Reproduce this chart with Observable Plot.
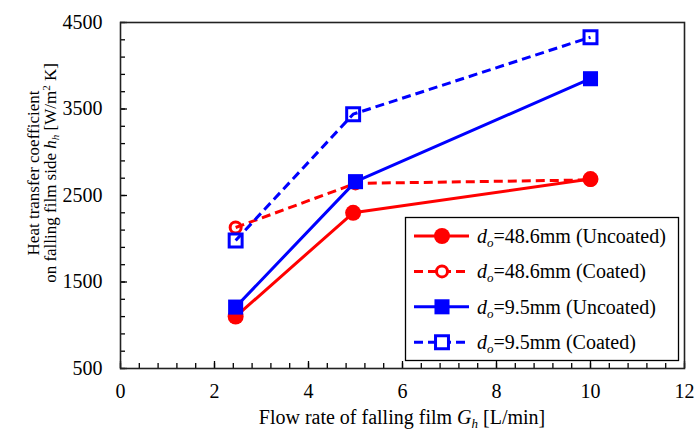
<!DOCTYPE html>
<html>
<head>
<meta charset="utf-8">
<script src="https://cdn.jsdelivr.net/npm/d3@7"></script>
<script src="https://cdn.jsdelivr.net/npm/@observablehq/plot@0.6"></script>
<style>
  html, body { margin: 0; padding: 0; background: #fff; }
  #wrap { position: relative; width: 695px; height: 432px; font-family: 'Liberation Serif', 'Times New Roman', serif; }
  #wrap svg { position: absolute; left: 0; top: 0; }
  #wrap svg text { font-family: 'Liberation Serif', 'Times New Roman', serif !important; }
</style>
</head>
<body>
<div id="wrap"></div>
<script>
// ---- data ----
const flow48Uncoated = [2.45, 4.95, 10];
const htc48Uncoated  = [1100, 2300, 2690];
const flow48Coated   = [2.45, 5, 10];
const htc48Coated    = [2130, 2640, 2680];
const flow95Uncoated = [2.45, 5, 10];
const htc95Uncoated  = [1210, 2660, 3850];
const flow95Coated   = [2.45, 4.95, 10];
const htc95Coated    = [1980, 3440, 4330];

const seriesNames = [
  "=48.6mm (Uncoated)",
  "=48.6mm (Coated)",
  "=9.5mm (Uncoated)",
  "=9.5mm (Coated)"
];

const xTickLabels = [0, 2, 4, 6, 8, 10, 12];
const yTickLabels = [500, 1500, 2500, 3500, 4500];
const xMinorTicks = d3.range(0, 12.001, 0.4);
const yMinorTicks = d3.range(500, 4500.1, 200);

const FONT = "'Liberation Serif', 'Times New Roman', serif";
const W = 695, H = 432, ML = 120, MR = 11, MT = 22, MB = 64;
const PW = W - ML - MR, PH = H - MT - MB;

const toRows = (xs, ys) => xs.map((x, i) => ({x, y: ys[i]}));
const series = [
  {rows: toRows(flow48Uncoated, htc48Uncoated), color: "#ff0000", dash: null, symbol: "circle", open: false},
  {rows: toRows(flow48Coated, htc48Coated),     color: "#ff0000", dash: "9,5", symbol: "circle", open: true},
  {rows: toRows(flow95Uncoated, htc95Uncoated), color: "#0000ff", dash: null, symbol: "square", open: false},
  {rows: toRows(flow95Coated, htc95Coated),     color: "#0000ff", dash: "9,5", symbol: "square", open: true}
];

function dotOpts(s) {
  const r = s.symbol === "circle" ? (s.open ? 5.5 : 8) : (s.open ? 7.3 : 8.5);
  return s.open
    ? {x: "x", y: "y", symbol: s.symbol, r, fill: "none", stroke: s.color, strokeWidth: 3}
    : {x: "x", y: "y", symbol: s.symbol, r, fill: s.color, stroke: "none"};
}

const marks = [];
for (const s of series) {
  marks.push(Plot.line(s.rows, {x: "x", y: "y", stroke: s.color, strokeWidth: 3,
    strokeDasharray: s.dash || undefined, strokeLinecap: s.dash ? "butt" : "round"}));
  marks.push(Plot.dot(s.rows, dotOpts(s)));
}

const chart = Plot.plot({
  width: W,
  height: H,
  marginLeft: ML,
  marginRight: MR,
  marginTop: MT,
  marginBottom: MB,
  style: {fontFamily: FONT, fontSize: "20px", color: "#000", background: "transparent"},
  x: {domain: [0, 12]},
  y: {domain: [500, 4500]},
  marks: [
    // inward tick marks (minor and major)
    Plot.ruleX(xMinorTicks, {x: d => d, insetTop: PH - 5, stroke: "#000", strokeWidth: 1.3}),
    Plot.ruleX(xTickLabels, {x: d => d, insetTop: PH - 7, stroke: "#000", strokeWidth: 1.3}),
    Plot.ruleY(yMinorTicks, {y: d => d, insetRight: PW - 5, stroke: "#000", strokeWidth: 1.3}),
    Plot.ruleY(yTickLabels, {y: d => d, insetRight: PW - 7, stroke: "#000", strokeWidth: 1.3}),
    Plot.axisX(xTickLabels, {tickSize: 0, tickPadding: 15, fontSize: 20, label: null, tickFormat: d => String(d)}),
    Plot.axisY(yTickLabels, {tickSize: 0, tickPadding: 18, fontSize: 20, label: null, tickFormat: d => String(d)}),
    ...marks,
    Plot.frame({stroke: "#222", strokeWidth: 1.6})
  ]
});
document.getElementById("wrap").appendChild(chart);

// ---- overlay: axis titles and legend ----
const ov = d3.select("#wrap").append("svg")
  .attr("width", W).attr("height", H)
  .attr("font-family", FONT)
  .style("overflow", "visible");

// x title
const xt = ov.append("text").attr("x", 402).attr("y", 424).attr("text-anchor", "middle")
  .attr("font-size", 20).attr("fill", "#000");
xt.append("tspan").text("Flow rate of falling film ");
xt.append("tspan").attr("font-style", "italic").text("G");
xt.append("tspan").attr("font-style", "italic").attr("font-size", 13).attr("dy", 4).text("h");
xt.append("tspan").attr("dy", -4).text(" [L/min]");

// y title (two lines)
const yg = ov.append("g").attr("transform", "translate(0,173) rotate(-90)");
yg.append("text").attr("x", 0).attr("y", 39).attr("text-anchor", "middle")
  .attr("font-size", 17).attr("fill", "#000").text("Heat transfer coefficient");
const y2 = yg.append("text").attr("x", 0).attr("y", 56).attr("text-anchor", "middle")
  .attr("font-size", 17).attr("fill", "#000");
y2.append("tspan").text("on falling film side ");
y2.append("tspan").attr("font-style", "italic").text("h");
y2.append("tspan").attr("font-style", "italic").attr("font-size", 11).attr("dy", 3).text("h");
y2.append("tspan").attr("dy", -3).text(" [W/m");
y2.append("tspan").attr("font-size", 11).attr("dy", -6).text("2");
y2.append("tspan").attr("dy", 6).text(" K]");

// legend
const lg = ov.append("g");
lg.append("rect").attr("x", 405.5).attr("y", 217.5).attr("width", 273).attr("height", 143)
  .attr("fill", "#fff").attr("stroke", "#000").attr("stroke-width", 1.3);
series.forEach((s, i) => {
  const cy = 236 + i * 35.4;
  lg.append("line").attr("x1", 414).attr("x2", 469).attr("y1", cy).attr("y2", cy)
    .attr("stroke", s.color).attr("stroke-width", 3)
    .attr("stroke-dasharray", s.dash || null);
  const o = dotOpts(s);
  const sym = s.symbol === "circle" ? d3.symbolCircle : d3.symbolSquare;
  lg.append("path").attr("transform", `translate(442,${cy})`)
    .attr("d", d3.symbol(sym, o.r * o.r * Math.PI)())
    .attr("fill", s.open ? "#fff" : s.color)
    .attr("stroke", s.open ? s.color : "none")
    .attr("stroke-width", s.open ? 3 : 0);
  const t = lg.append("text").attr("x", 477).attr("y", cy + 7).attr("font-size", 20).attr("fill", "#000");
  t.append("tspan").attr("font-style", "italic").text("d");
  t.append("tspan").attr("font-style", "italic").attr("font-size", 13).attr("dy", 4).text("o");
  t.append("tspan").attr("dy", -4).text(seriesNames[i]);
});
</script>
</body>
</html>
